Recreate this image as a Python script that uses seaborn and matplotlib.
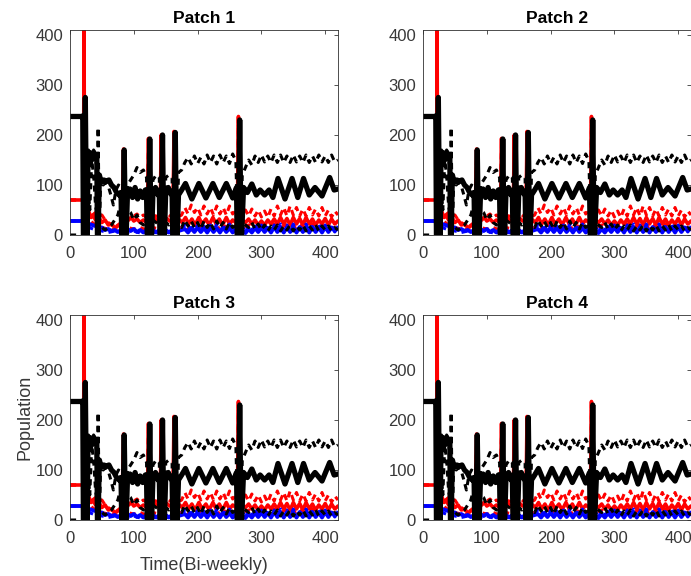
import numpy as np
import matplotlib.pyplot as plt
import seaborn as sns

# patch titles
patches = ['Patch 1', 'Patch 2', 'Patch 3', 'Patch 4']

# black solid
t_black = [0, 19, 20, 21, 22, 24, 26, 27, 28, 31, 34, 37, 40, 42, 43, 44, 46, 49, 53, 57, 61, 65, 69, 73, 77, 80,
           81, 83, 85, 87, 88, 90, 94, 98, 102, 106, 110, 114, 118, 120, 121, 123, 125, 127, 128, 130, 134, 138, 140,
           141, 143, 145, 147, 148, 150, 154, 158, 160, 161, 163, 165, 167, 168, 170, 175, 181, 191, 202, 213, 224,
           234, 245, 255, 261, 262, 264, 266, 268, 269, 272, 278, 285, 292, 298, 305, 312, 318, 326, 337, 348, 357,
           366, 375, 384, 395, 407, 414, 420]
v_black = [237, 237, 238, 0, 0, 275, 0, 0, 140, 165, 150, 165, 155, 160, 0, 0, 120, 105, 110, 108, 110, 100, 95, 85,
           80, 85, 0, 0, 170, 0, 0, 80, 92, 75, 95, 72, 88, 75, 90, 80, 0, 0, 192, 0, 0, 85, 95, 80, 85,
           0, 0, 200, 0, 0, 85, 95, 82, 85, 0, 0, 205, 0, 0, 80, 90, 103, 72, 103, 74, 103,
           75, 103, 74, 95, 0, 0, 230, 0, 0, 95, 85, 102, 80, 90, 80, 90, 75, 113, 72, 113, 75,
           113, 80, 95, 78, 115, 90, 92]

# black dashed, upper
t_black_up = [0, 20, 21, 24, 26, 29, 33, 37, 41, 43, 44, 46, 48, 52, 56, 60, 64, 68, 72, 76, 80, 81, 85, 88, 90, 95,
              100, 105, 110, 115, 120, 121, 125, 128, 130, 135, 140, 141, 145, 148, 150, 155, 160, 161, 165, 168,
              170, 175, 180, 185, 190, 195, 200, 205, 210, 215, 220, 225, 230, 235, 240, 245, 250, 255, 260, 263,
              266, 268, 270, 275, 280, 285, 290, 295, 300, 305, 310, 315, 320, 325, 330, 335, 340, 345, 350, 355,
              360, 365, 370, 375, 380, 385, 390, 395, 400, 405, 410, 415, 420]
v_black_up = [237, 237, 0, 260, 0, 170, 150, 170, 160, 0, 215, 0, 110, 100, 105, 98, 80, 60, 90, 100, 95, 0, 165, 0,
              100, 110, 120, 135, 125, 130, 115, 0, 185, 0, 110, 120, 115, 0, 195, 0, 115, 120, 115, 0, 200, 0,
              125, 130, 145, 155, 142, 158, 143, 155, 142, 160, 145, 158, 142, 160, 145, 158, 143, 162, 148, 0,
              225, 0, 120, 135, 150, 140, 158, 145, 160, 146, 158, 145, 160, 145, 160, 145, 158, 145, 160, 146,
              158, 145, 160, 145, 158, 145, 160, 146, 158, 145, 160, 146, 150]

# black dashed, lower
t_black_lo = [0, 20, 22, 25, 28, 31, 34, 37, 40, 43, 46, 50, 55, 60, 65, 70, 75, 78, 80, 81, 85, 88, 90, 95, 100,
              105, 110, 115, 120, 121, 125, 128, 130, 135, 140, 141, 145, 148, 150, 155, 160, 161, 165, 168, 170,
              175, 180, 185, 190, 195, 200, 205, 210, 215, 220, 225, 230, 235, 240, 245, 250, 255, 260, 263, 266,
              268, 270, 275, 280, 285, 290, 295, 300, 305, 310, 315, 320, 325, 330, 335, 340, 345, 350, 355, 360,
              365, 370, 375, 380, 385, 390, 395, 400, 405, 410, 415, 420]
v_black_lo = [0, 0, 0, 60, 100, 50, 150, 120, 60, 30, 20, 15, 10, 15, 20, 30, 40, 55, 60, 0, 160, 0, 50, 45, 30,
              40, 25, 20, 30, 0, 180, 0, 30, 25, 20, 0, 190, 0, 25, 20, 25, 0, 195, 0, 20,
              15, 30, 18, 28, 15, 25, 12, 28, 15, 25, 12, 28, 15, 25, 12, 25, 15, 20, 0, 220,
              0, 25, 20, 15, 25, 12, 22, 10, 20, 8, 18, 10, 20, 8, 18, 10, 20, 8, 18, 10,
              20, 8, 18, 10, 20, 8, 18, 10, 18, 8, 15, 10]

# red solid
t_red = [0, 20, 21, 22, 23, 24, 27, 30, 33, 36, 40, 45, 50, 55, 60, 65, 70, 75, 80, 81, 84, 86, 88, 92, 96, 100,
         105, 110, 115, 120, 121, 123, 125, 128, 132, 136, 140, 141, 143, 145, 148, 152, 156, 160, 161, 163, 165,
         168, 172, 176, 181, 186, 191, 196, 202, 207, 213, 218, 224, 229, 234, 239, 245, 250, 255, 260, 262, 264,
         266, 270, 275, 280, 285, 290, 295, 300, 305, 310, 315, 320, 325, 330, 335, 340, 345, 350, 355, 360, 365,
         370, 375, 380, 385, 390, 395, 400, 405, 410, 415, 420]
v_red = [70, 70, 0, 420, 0, 60, 50, 45, 35, 40, 30, 35, 25, 30, 20, 22, 15, 18, 20, 0, 172, 0, 35, 30, 35, 28,
         32, 25, 30, 25, 0, 193, 0, 30, 35, 28, 30, 0, 200, 0, 28, 33, 28, 30, 0, 207, 0,
         28, 30, 25, 35, 22, 32, 20, 35, 22, 32, 20, 35, 22, 32, 20, 35, 22, 30, 25, 0, 237,
         0, 30, 25, 32, 22, 30, 20, 28, 20, 30, 22, 32, 22, 35, 22, 33, 20, 35, 22, 33, 20,
         35, 22, 32, 20, 30, 22, 33, 20, 32, 22, 28]

# red dashed, upper
t_red_up = [0, 20, 21, 22, 23, 25, 30, 35, 40, 45, 50, 55, 60, 65, 70, 75, 80, 81, 84, 86, 88, 95, 100, 105, 110,
            115, 120, 121, 123, 125, 128, 135, 140, 141, 143, 145, 148, 155, 160, 161, 163, 165, 168, 175, 180,
            185, 190, 195, 200, 205, 210, 215, 220, 225, 230, 235, 240, 245, 250, 255, 260, 262, 264, 266, 270,
            275, 280, 285, 290, 295, 300, 305, 310, 315, 320, 325, 330, 335, 340, 345, 350, 355, 360, 365, 370,
            375, 380, 385, 390, 395, 400, 405, 410, 415, 420]
v_red_up = [70, 70, 0, 300, 0, 55, 45, 40, 45, 38, 40, 30, 25, 20, 15, 20, 25, 0, 165, 0, 35, 40, 38, 42, 35,
            40, 35, 0, 185, 0, 40, 38, 35, 0, 195, 0, 38, 40, 35, 0, 200, 0, 35, 40, 55,
            42, 60, 45, 55, 40, 58, 42, 55, 40, 58, 42, 55, 40, 58, 42, 48, 0, 230, 0, 40,
            50, 38, 52, 38, 50, 36, 48, 35, 52, 38, 58, 40, 55, 38, 58, 40, 55, 38, 52, 38,
            55, 40, 52, 38, 55, 38, 50, 36, 48, 40]

# red dashed, lower
t_red_lo = [0, 20, 21, 24, 30, 40, 50, 60, 70, 80, 81, 84, 86, 90, 100, 110, 120, 121, 123, 125, 130, 140, 141,
            143, 145, 150, 160, 161, 163, 165, 170, 180, 190, 200, 210, 220, 230, 240, 250, 260, 262, 264, 266,
            270, 280, 290, 300, 310, 320, 330, 340, 350, 360, 370, 380, 390, 400, 410, 420]
v_red_lo = [70, 70, 0, 40, 30, 20, 15, 12, 10, 12, 0, 150, 0, 15, 12, 15, 10, 0, 170, 0, 15, 12, 0,
            180, 0, 15, 12, 0, 185, 0, 12, 18, 10, 20, 12, 20, 12, 20, 12, 18, 0, 220, 0,
            15, 20, 12, 20, 12, 22, 14, 22, 14, 22, 14, 22, 14, 22, 14, 20]

# blue solid
t_blue = [0, 20, 21, 23, 25, 27, 30, 35, 40, 45, 50, 55, 60, 65, 70, 75, 80, 81, 84, 86, 90, 95, 100, 105, 110,
          115, 120, 121, 123, 125, 130, 135, 140, 141, 143, 145, 150, 155, 160, 161, 163, 165, 170, 180, 185, 190,
          195, 200, 205, 210, 215, 220, 225, 230, 235, 240, 245, 250, 255, 260, 262, 264, 266, 270, 275, 280, 285,
          290, 295, 300, 305, 310, 315, 320, 325, 330, 335, 340, 345, 350, 355, 360, 365, 370, 375, 380, 385, 390,
          395, 400, 405, 410, 415, 420]
v_blue = [28, 28, 0, 0, 75, 0, 22, 20, 18, 14, 15, 10, 12, 8, 10, 6, 10, 0, 60, 0, 12, 8, 12, 6, 10,
          5, 10, 0, 50, 0, 10, 5, 10, 0, 55, 0, 10, 5, 10, 0, 50, 0, 8, 12, 5, 14,
          6, 15, 6, 14, 5, 15, 6, 14, 5, 15, 6, 14, 5, 12, 0, 40, 0, 10, 4, 12, 5,
          14, 6, 15, 6, 14, 5, 16, 6, 15, 5, 16, 6, 15, 5, 16, 6, 15, 5, 16, 6, 15,
          5, 16, 6, 15, 8, 14]

# blue dashed
t_blue_d = [0, 20, 21, 22, 23, 25, 30, 40, 50, 60, 70, 80, 81, 84, 86, 90, 100, 110, 120, 121, 123, 125, 130, 140,
            141, 143, 145, 150, 160, 161, 163, 165, 170, 180, 185, 190, 195, 200, 205, 210, 215, 220, 225, 230,
            235, 240, 245, 250, 255, 260, 262, 264, 266, 270, 275, 280, 285, 290, 295, 300, 305, 310, 315, 320,
            325, 330, 335, 340, 345, 350, 355, 360, 365, 370, 375, 380, 385, 390, 395, 400, 405, 410, 415, 420]
v_blue_d = [28, 28, 0, 60, 0, 20, 15, 10, 8, 5, 8, 5, 0, 40, 0, 5, 8, 4, 6, 0, 45, 0, 5, 6,
            0, 45, 0, 5, 6, 0, 45, 0, 5, 20, 8, 22, 6, 20, 8, 22, 6, 20, 8, 22,
            6, 20, 8, 22, 6, 15, 0, 35, 0, 18, 5, 20, 8, 22, 6, 20, 8, 22, 6, 20,
            8, 22, 6, 20, 8, 22, 6, 20, 8, 22, 6, 20, 8, 22, 6, 20, 8, 22, 6, 18]

dash = (0, (2.0, 1.6))
series = [
    (t_red_up, v_red_up, 'red', 2.2, dash),
    (t_red_lo, v_red_lo, 'red', 2.2, dash),
    (t_red, v_red, 'red', 2.6, '-'),
    (t_blue_d, v_blue_d, 'blue', 2.2, dash),
    (t_blue, v_blue, 'blue', 2.8, '-'),
    (t_black_up, v_black_up, 'black', 2.2, dash),
    (t_black_lo, v_black_lo, 'black', 2.2, dash),
    (t_black, v_black, 'black', 3.8, '-'),
]

sns.set_theme(style='white')
plt.rcParams['font.family'] = ['Liberation Sans', 'DejaVu Sans']

fig = plt.figure(figsize=(6.91, 5.76), dpi=100)
positions = [
    [0.1013, 0.592, 0.3878, 0.356],
    [0.6122, 0.592, 0.3878, 0.356],
    [0.1013, 0.0972, 0.3878, 0.356],
    [0.6122, 0.0972, 0.3878, 0.356],
]

for name, pos in zip(patches, positions):
    ax = fig.add_axes(pos)
    for tt, vv, col, lw, ls in series:
        sns.lineplot(x=tt, y=vv, ax=ax, color=col, linewidth=lw, linestyle=ls,
                     estimator=None, sort=False)
    ax.set_xlim(0, 420)
    ax.set_ylim(0, 410)
    ax.set_xticks([0, 100, 200, 300, 400])
    ax.set_yticks([0, 100, 200, 300, 400])
    ax.tick_params(direction='in', length=3, width=0.6, top=True, right=True,
                   labelsize=12, colors='#383838')
    ax.tick_params(axis='x', pad=8)
    ax.tick_params(axis='y', pad=5)
    for sp in ax.spines.values():
        sp.set_color('#303030')
        sp.set_linewidth(0.6)
    ax.set_title(name, fontsize=12.5, fontweight='bold', pad=5, color='black')
    if name == 'Patch 3':
        ax.set_xlabel('Time(Bi-weekly)', fontsize=13, color='#383838', labelpad=8)
        ax.set_ylabel('Population', fontsize=13, color='#383838', labelpad=1)

plt.savefig('out.png', dpi=100)
